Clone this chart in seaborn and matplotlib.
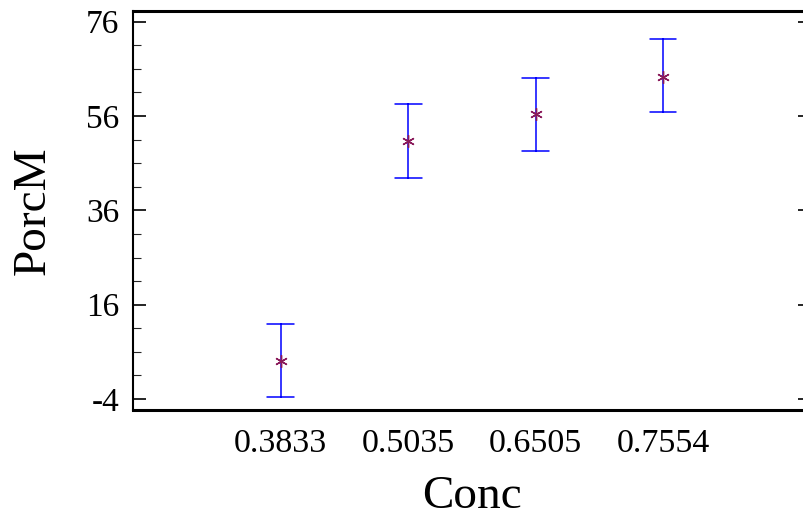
import numpy as np
import pandas as pd
import matplotlib
matplotlib.use("Agg")
import matplotlib.pyplot as plt
import seaborn as sns

conc = ["0.3833", "0.5035", "0.6505", "0.7554"]
means = [4.13, 50.7, 56.36, 64.34]
lower = [-3.64, 42.80, 48.59, 56.79]
upper = [11.90, 58.62, 64.13, 72.40]

sns.set_theme(style="white")
plt.rcParams["font.family"] = ["Liberation Serif", "DejaVu Serif"]
plt.rcParams["axes.unicode_minus"] = False
plt.rcParams["text.color"] = "black"
plt.rcParams["axes.labelcolor"] = "black"

rows = []
for c, lo, m, hi in zip(conc, lower, means, upper):
    for v in (lo, m, hi):
        rows.append({"Conc": c, "PorcM": v})
df_err = pd.DataFrame(rows)
df_mean = pd.DataFrame({"Conc": conc, "PorcM": means})

fig = plt.figure(figsize=(8.04, 5.20), dpi=100)
ax = fig.add_axes([133 / 804, 1 - 410 / 520, 678 / 804, 399 / 520])

sns.pointplot(data=df_err, x="Conc", y="PorcM", order=conc,
              estimator="median", errorbar=("pi", 100),
              color="#0000FF", linestyle="none", marker="",
              capsize=0.21, err_kws={"linewidth": 1.1}, ax=ax)
sns.pointplot(data=df_mean, x="Conc", y="PorcM", order=conc,
              errorbar=None, color="#8A1A5A", linestyle="none",
              marker=(6, 2, 0), markersize=9, markeredgewidth=1.0, ax=ax)

ax.set_xlim(-1.158, 4.16)
ax.set_ylim(-6.33, 78.27)
ax.set_yticks([-4, 16, 36, 56, 76])
ax.set_yticks(np.arange(-4, 77, 5), minor=True)

for s in ["top", "bottom"]:
    ax.spines[s].set_linewidth(2.2)
    ax.spines[s].set_color("black")
ax.spines["left"].set_linewidth(1.5)
ax.spines["left"].set_color("black")
ax.spines["right"].set_visible(False)

ax.tick_params(axis="y", which="major", direction="in", length=9.6, width=1.2,
               left=True, right=True, labelsize=24, pad=10, colors="black")
ax.tick_params(axis="y", which="minor", direction="in", length=6, width=0.8,
               left=True, right=False)
ax.tick_params(axis="x", which="both", bottom=False, top=False,
               labelsize=24.5, pad=7, colors="black")

ax.set_xlabel("Conc", fontsize=34, labelpad=12)
ax.set_ylabel("PorcM", fontsize=34, labelpad=22)
ax.grid(False)

fig.savefig("out.png", dpi=100)
